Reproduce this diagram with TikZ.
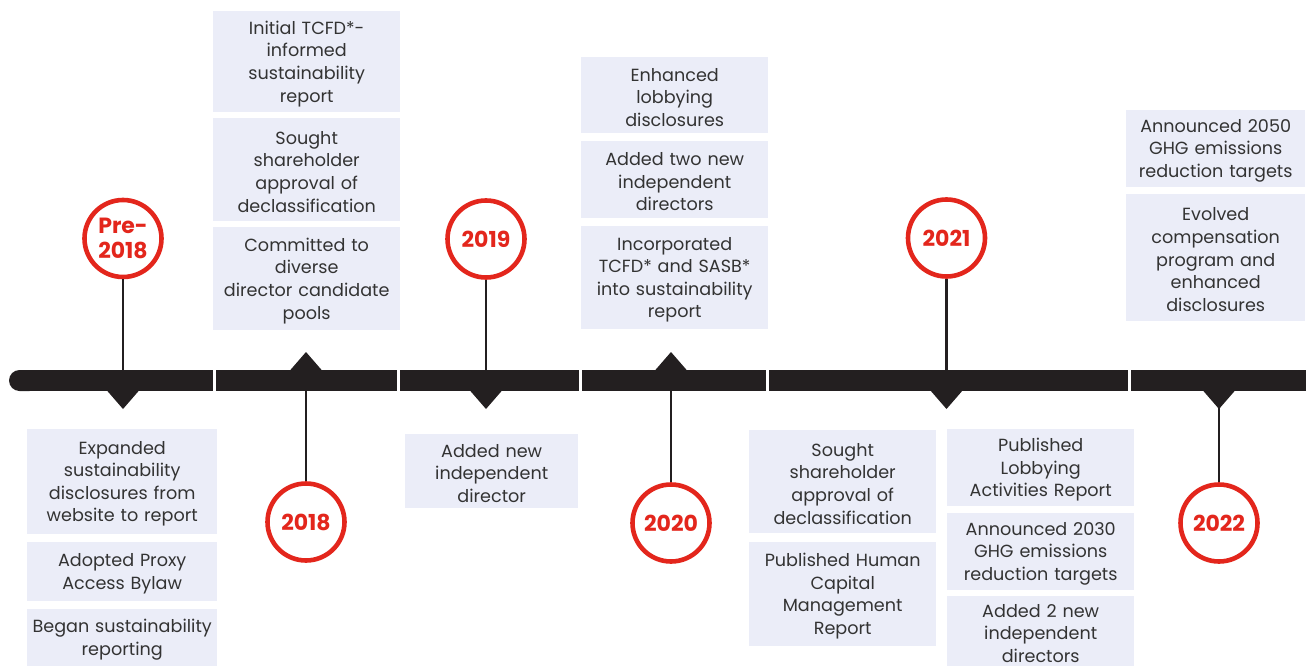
\documentclass[tikz,border=0pt]{standalone}
\usepackage{fontspec}
\setmainfont{Poppins}
\definecolor{boxfill}{HTML}{EBEDF8}
\definecolor{tlred}{HTML}{E3261C}
\definecolor{barcol}{HTML}{231F20}
\definecolor{txt}{HTML}{333333}
% event box: name, x1, y1, x2, y2, text (the text sits slightly below the box centre)
\newcommand\tlbox[6]{%
  \pgfmathsetmacro\tlbw{#4-#2}%
  \pgfmathsetmacro\tlbh{#5-#3}%
  \pgfmathsetmacro\tlbt{#4-#2-2}%
  \node[evbox, minimum width=\tlbw pt, minimum height=\tlbh pt] (#1) at (#2,#3) {};
  \node[evtext, text width=\tlbt pt] (#1t) at ([yshift=-2pt]#1.center) {#6};}
\begin{document}
\begin{tikzpicture}[x=1pt,y=-1pt,
  evbox/.style={fill=boxfill, inner sep=0pt, anchor=north west},
  evtext/.style={text=txt, inner sep=0pt, align=center, font=\fontsize{17.6}{22.6}\selectfont},
  yearmark/.style={circle, draw=tlred, fill=white, line width=4.6pt, minimum size=77pt,
    inner sep=0pt, text=tlred, align=center, font=\fontsize{22}{25}\selectfont\bfseries},
  stem/.style={draw=barcol, line width=2.4pt},
  gap/.style={fill=white},
  pointer/.style={fill=barcol}]
\useasboundingbox (0,0) rectangle (1306,666);

% Pre-2018 events
\tlbox{a1}{27}{429}{217}{534}{Expanded\\sustainability\\disclosures from\\website to report}
\tlbox{a2}{27}{542}{217}{601}{Adopted Proxy\\Access Bylaw}
\tlbox{a3}{27}{609}{217}{666}{Began sustainability\\reporting}
% 2018 events
\tlbox{b1}{213}{11}{400}{112}{Initial TCFD*-\\informed\\sustainability\\report}
\tlbox{b2}{213}{118}{400}{221}{Sought\\shareholder\\approval of\\declassification}
\tlbox{b3}{213}{227}{400}{330}{Committed to\\diverse\\director candidate\\pools}
% 2019 events
\tlbox{c1}{405}{434}{578}{508}{Added new\\independent\\director}
% 2020 events
\tlbox{d1}{581}{57}{768}{133}{Enhanced\\lobbying\\disclosures}
\tlbox{d2}{581}{141}{768}{218}{Added two new\\independent\\directors}
\tlbox{d3}{581}{226}{768}{329}{Incorporated\\TCFD* and SASB*\\into sustainability\\report}
% 2021 events
\tlbox{e1}{749}{430}{936}{533}{Sought\\shareholder\\approval of\\declassification}
\tlbox{e2}{749}{542}{936}{646}{Published Human\\Capital\\Management\\Report}
\tlbox{f1}{947}{429}{1134}{506}{Published\\Lobbying\\Activities Report}
\tlbox{f2}{947}{513}{1134}{590}{Announced 2030\\GHG emissions\\reduction targets}
\tlbox{f3}{947}{596}{1134}{666}{Added 2 new\\independent\\directors}
% 2022 events
\tlbox{g1}{1126}{110}{1305}{187}{Announced 2050\\GHG emissions\\reduction targets}
\tlbox{g2}{1126}{194}{1305}{321}{Evolved\\compensation\\program and\\enhanced\\disclosures}

% year markers
\node[yearmark] (y0) at (123,238.5) {Pre-\\2018};
\node[yearmark] (y1) at (306,522) {2018};
\node[yearmark] (y2) at (486,239) {2019};
\node[yearmark] (y3) at (671,523) {2020};
\node[yearmark] (y4) at (946.5,238) {2021};
\node[yearmark] (y5) at (1219,523) {2022};

% points on the bar
\coordinate (k0) at (123,380);
\coordinate (k1) at (306,380);
\coordinate (k2) at (486,380);
\coordinate (k3) at (671,380);
\coordinate (k4) at (946.5,380);
\coordinate (k5) at (1219,400);

% stems
\foreach \i in {0,...,5} \draw[stem] (y\i) -- (k\i);

% timeline bar
\fill[barcol, rounded corners=10.5pt] (40,370) -- (9,370) -- (9,391) -- (40,391) -- cycle;
\fill[barcol] (25,370) rectangle (1306,391);
\foreach \g in {214,398,580,767.5,1129}
  \fill[gap] (\g-1.5,368) rectangle (\g+1.5,393);

% pointers
\foreach \c in {123,486,946.5,1219}
  \fill[pointer] (\c-16.5,390) -- (\c+16.5,390) -- (\c,409) -- cycle;
\foreach \c in {306,671}
  \fill[pointer] (\c-16.5,371) -- (\c+16.5,371) -- (\c,352) -- cycle;
\end{tikzpicture}
\end{document}
